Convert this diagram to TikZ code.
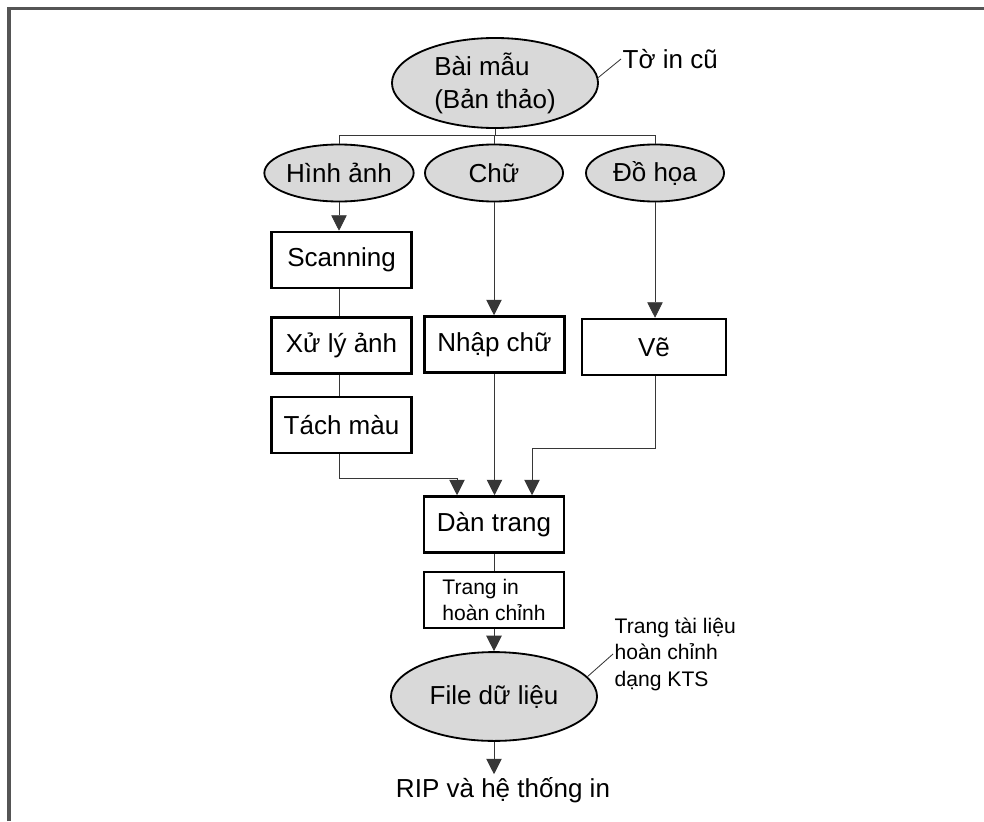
\documentclass[tikz,border=0pt]{standalone}
\usepackage{fontspec}
\setmainfont{Liberation Sans}
\usetikzlibrary{arrows.meta,positioning,shapes.geometric}
\definecolor{ovalgray}{RGB}{217,217,217}
\definecolor{linegray}{RGB}{55,55,55}
\definecolor{framegray}{RGB}{85,85,85}
\newcommand{\bigtxt}{\fontsize{18.5}{23.5}\selectfont}
\newcommand{\smalltxt}{\fontsize{15}{18.8}\selectfont}

\begin{document}
\begin{tikzpicture}[x=0.025cm,y=-0.025cm,every node/.style={font=\bigtxt},
    oval/.style={ellipse,draw,fill=ovalgray,line width=1.3pt,inner sep=0pt},
    stepbox/.style={rectangle,draw,line width=1.8pt,minimum width=3.5cm,minimum height=1.4cm,inner sep=0pt},
    conn/.style={draw=linegray,line width=0.6pt},
    arrow/.style={conn,-{Triangle[width=11pt,length=11pt]}}]
    \useasboundingbox (0,0) rectangle (984,821);
    % frame (top and left only)
    \draw[framegray,line width=2.2pt] (9,821) -- (9,8.5) -- (984,8.5);
    % source
    \node[oval,minimum width=5.15cm,minimum height=2.25cm,align=left] (src) at (495,83) {Bài mẫu\\(Bản thảo)};
    \node[anchor=west,inner sep=1pt] (old) at (621,59) {Tờ in cũ};
    \draw[conn] (src.3) -- (old.west);
    % three kinds of material
    \foreach \n/\x/\l in {hinh/339/Hình ảnh, chu/494/Chữ, dohoa/655/Đồ họa}{
      \node[oval,minimum width=3.45cm,minimum height=1.425cm] (\n) at (\x,173) {\l};
    }
    \coordinate (busL) at (339,135);
    \coordinate (busR) at (655,135);
    \draw[conn] (busL) -- (busR);
    \draw[conn] (src.south) -- (src.south |- busL);
    \foreach \n in {hinh,chu,dohoa}{
      \draw[conn] (\n.north |- busL) -- (\n.north);
    }
    % processing boxes
    \node[stepbox] (scan) at (341.5,260) {Scanning};
    \node[stepbox] (xuly) at (341.5,345.5) {Xử lý ảnh};
    \node[stepbox] (tach) at (341.5,425) {Tách màu};
    \node[stepbox] (nhap) at (494.5,344.5) {Nhập chữ};
    \node[stepbox,minimum width=3.6cm] (ve) at (654,347) {Vẽ};
    \draw[arrow] (hinh.south) -- (hinh.south |- scan.north);
    \draw[conn] (scan.south -| hinh.south) -- (xuly.north -| hinh.south);
    \draw[conn] (xuly.south -| hinh.south) -- (tach.north -| hinh.south);
    \draw[arrow] (chu.south) -- (chu.south |- nhap.north);
    \draw[arrow] (dohoa.south) -- (dohoa.south |- ve.north);
    % layout
    \node[stepbox] (dan) at (494,524.5) {Dàn trang};
    \coordinate (mergeL) at (457,478);
    \coordinate (mergeR) at (532,448);
    \draw[arrow] (tach.south -| hinh.south) |- (mergeL) -- (mergeL |- dan.north);
    \draw[arrow] (nhap.south) -- (nhap.south |- dan.north);
    \draw[arrow] (ve.south -| dohoa.south) |- (mergeR) -- (mergeR |- dan.north);
    \node[stepbox,align=left,font=\smalltxt] (trang) at (494,600) {Trang in\\hoàn chỉnh};
    \draw[conn] (dan.south) -- (trang.north);
    % output
    \node[oval,minimum width=5.15cm,minimum height=2.22cm] (file) at (494,696.5) {File dữ liệu};
    \node[anchor=west,align=left,inner sep=1pt,font=\smalltxt] (kts) at (613,654) {Trang tài liệu\\hoàn chỉnh\\dạng KTS};
    \draw[conn] (file.12) -- (kts.west);
    \draw[arrow] (trang.south) -- (file.north);
    \node[inner sep=2pt] (rip) at (503,790) {RIP và hệ thống in};
    \draw[arrow] (file.south) -- (file.south |- rip.north);
\end{tikzpicture}
\end{document}
